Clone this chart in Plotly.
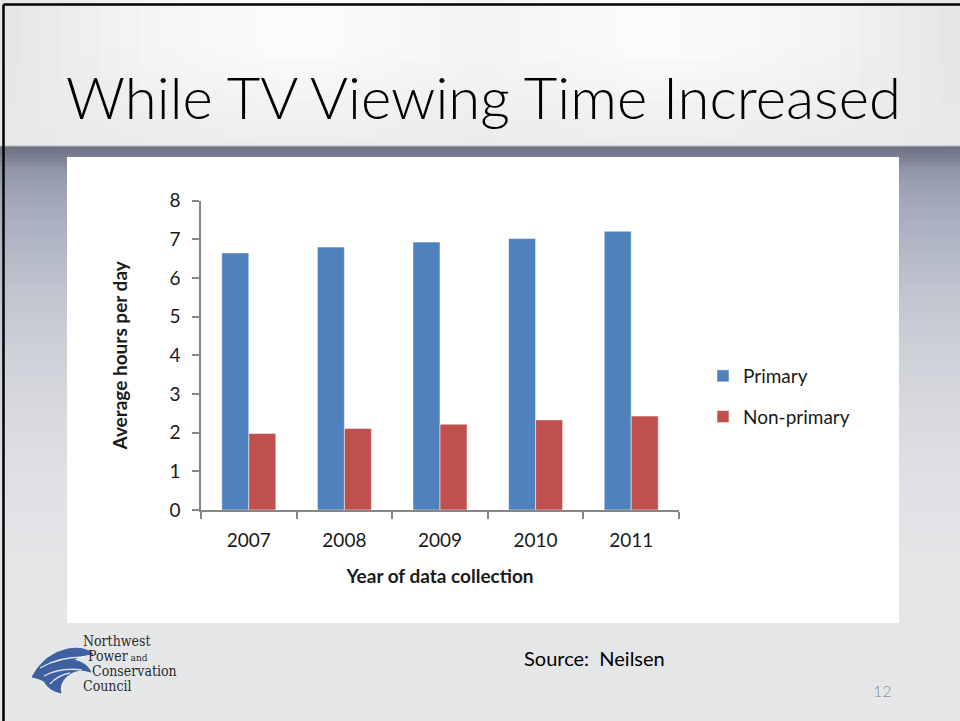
import plotly.graph_objects as go

# ---- data -------------------------------------------------------------
years = ["2007", "2008", "2009", "2010", "2011"]
primary = [6.65, 6.80, 6.93, 7.02, 7.21]
non_primary = [1.98, 2.11, 2.22, 2.33, 2.43]
y_ticks = [0, 1, 2, 3, 4, 5, 6, 7, 8]

W, H = 960, 721


def X(px):
    return px / W


def Y(py):
    return 1 - py / H


def hex2rgb(h):
    h = h.lstrip("#")
    return tuple(int(h[i:i + 2], 16) for i in (0, 2, 4))


def blend(a, b, t):
    return tuple(a[i] + (b[i] - a[i]) * t for i in range(3))


def ramp(stops, v):
    for (p0, c0), (p1, c1) in zip(stops, stops[1:]):
        if p0 <= v <= p1:
            return blend(hex2rgb(c0), hex2rgb(c1), (v - p0) / (p1 - p0) if p1 > p0 else 0)
    return hex2rgb(stops[-1][1])


def css(c):
    return "rgb(%d,%d,%d)" % tuple(round(v) for v in c)


shapes = []

# slide body: vertical gradient from the header shadow down to light grey
body_stops = [(146, "#6c7283"), (156, "#787e90"), (170, "#9097a9"), (200, "#a2a8ba"),
              (250, "#b3b8c6"), (300, "#c2c6d0"), (350, "#cdd0d7"), (400, "#d6d8dd"),
              (450, "#dcdee2"), (500, "#e1e2e5"), (560, "#e4e5e7"), (721, "#e6e7e9")]
step = 4
y0 = 146
while y0 < H:
    y1 = min(y0 + step, H)
    shapes.append(dict(type="rect", xref="paper", yref="paper", layer="below",
                       x0=0, x1=1, y0=Y(y1), y1=Y(y0), line=dict(width=0),
                       fillcolor=css(ramp(body_stops, (y0 + y1) / 2))))
    y0 = y1

# header band: light sheen, whiter towards the upper middle
col_stops = [(0, "#e4e5e7"), (150, "#f5f5f6"), (300, "#fcfcfc"), (480, "#f4f4f5"),
             (660, "#fcfcfc"), (820, "#f4f4f5"), (960, "#e4e5e7")]
bottom_tone = hex2rgb("#e8e9eb")
cw = 20
for cx in range(0, W, cw):
    top = ramp(col_stops, cx + cw / 2)
    for ry in range(0, 146, 10):
        ry1 = min(ry + 10, 146)
        t = min(1.0, max(0.0, (ry + 5 - 50) / 96))
        shapes.append(dict(type="rect", xref="paper", yref="paper", layer="below",
                           x0=X(cx), x1=X(cx + cw), y0=Y(ry1), y1=Y(ry), line=dict(width=0),
                           fillcolor=css(blend(top, bottom_tone, t * 0.8))))

# header lower edge
shapes.append(dict(type="line", xref="paper", yref="paper", layer="below",
                   x0=0, x1=1, y0=Y(146), y1=Y(146), line=dict(color="#b9bbc0", width=1)))

# white chart panel
shapes.append(dict(type="rect", xref="paper", yref="paper", layer="below",
                   x0=X(67), x1=X(899), y0=Y(623), y1=Y(157), line=dict(width=0),
                   fillcolor="white"))

# slide frame (top and left edges)
shapes.append(dict(type="line", xref="paper", yref="paper", x0=X(3.5), x1=1,
                   y0=Y(4.5), y1=Y(4.5), line=dict(color="black", width=2.5)))
shapes.append(dict(type="line", xref="paper", yref="paper", x0=X(3.5), x1=X(3.5),
                   y0=Y(4.5), y1=0, line=dict(color="black", width=2.5)))


# logo emblem: stylised blue wave
def path(cmds):
    out = []
    for cmd, pts in cmds:
        out.append(cmd + " ".join("%.5f,%.5f" % (X(a), Y(b)) for a, b in pts))
    return " ".join(out)


wave = path([("M", [(32, 677)]), ("Q", [(44, 654), (68, 649)]), ("Q", [(84, 646), (93, 654)]),
             ("Q", [(80, 655), (74, 660)]), ("Q", [(87, 663), (91, 672)]),
             ("Q", [(77, 667), (67, 676)]), ("Q", [(58, 684), (61, 693)]),
             ("Q", [(48, 690), (44, 681)]), ("Q", [(38, 678), (32, 677)]), ("Z", [])])
shapes.append(dict(type="path", xref="paper", yref="paper", path=wave,
                   fillcolor="#3e609f", line=dict(color="#3e609f", width=1)))
for p in ([(40, 668), (58, 657), (84, 657)], [(44, 676), (60, 667), (82, 670)],
          [(50, 684), (58, 675), (70, 673)]):
    shapes.append(dict(type="path", xref="paper", yref="paper",
                       path=path([("M", [p[0]]), ("Q", [p[1], p[2]])]),
                       line=dict(color="rgba(255,255,255,0.8)", width=1.3)))

font = "Lato, 'Open Sans', sans-serif"
txt = "#1a1a1a"

fig = go.Figure()
fig.add_trace(go.Bar(x=years, y=primary, name="Primary", marker_color="#4f81bd",
                     marker_line=dict(color="rgba(255,255,255,0.5)", width=1),
                     legendgroup="a"))
fig.add_trace(go.Bar(x=years, y=non_primary, name="Non-primary", marker_color="#c0504d",
                     marker_line=dict(color="rgba(255,255,255,0.5)", width=1),
                     legendgroup="b"))

annotations = [
    dict(text="While TV Viewing Time Increased", x=X(483), y=Y(97), xref="paper", yref="paper",
         showarrow=False, xanchor="center", yanchor="middle",
         font=dict(family="Lato", size=58, color="black", weight=300)),
    dict(text="Source:  Neilsen", x=X(594), y=Y(658), xref="paper", yref="paper",
         showarrow=False, xanchor="center", yanchor="middle",
         font=dict(family=font, size=20, color="black")),
    dict(text="12", x=X(882), y=Y(690), xref="paper", yref="paper", showarrow=False,
         xanchor="center", yanchor="middle",
         font=dict(family=font, size=16, color="#8c8c8c", weight=300)),
]

# logo lettering
serif = "'DejaVu Serif Condensed', 'Liberation Serif', serif"
for label, lx, ly in (("Northwest", 81, 641), ("Power<span style='font-size:10px'> and</span>", 86, 656),
                      ("Conservation", 90, 671), ("Council", 81, 686)):
    annotations.append(dict(text=label, x=X(lx), y=Y(ly), xref="paper", yref="paper",
                            showarrow=False, xanchor="left", yanchor="middle",
                            font=dict(family=serif, size=14, color="#2b2b2b")))

fig.update_layout(
    width=W, height=H, autosize=False,
    margin=dict(l=0, r=0, t=0, b=0, pad=0),
    paper_bgcolor="#e6e7e9",
    plot_bgcolor="rgba(0,0,0,0)",
    barmode="group", bargap=0.435, bargroupgap=0,
    shapes=shapes,
    annotations=annotations,
    showlegend=True,
    legend=dict(x=X(703), y=Y(357), xanchor="left", yanchor="top", traceorder="grouped",
                tracegroupgap=13, bgcolor="rgba(0,0,0,0)",
                font=dict(family=font, size=19, color=txt)),
    xaxis=dict(domain=[X(201), X(679)], type="category", showgrid=False, automargin=False,
               showline=True, linecolor="#868686", linewidth=1.5,
               ticks="outside", tickson="boundaries", ticklen=7, tickcolor="#868686",
               tickwidth=1.5, ticklabelstandoff=12,
               tickfont=dict(family=font, size=19, color=txt),
               title=dict(text="<b>Year of data collection</b>", standoff=20,
                          font=dict(family=font, size=19, color=txt))),
    yaxis=dict(domain=[Y(510), Y(200.7)], range=[0, 8], tickvals=y_ticks, showgrid=False,
               automargin=False, zeroline=False, showline=True, linecolor="#868686",
               linewidth=1.5, ticks="outside", ticklen=7, tickcolor="#868686", tickwidth=1.5,
               ticklabelstandoff=8,
               tickfont=dict(family=font, size=19, color=txt),
               title=dict(text="<b>Average hours per day</b>", standoff=37,
                          font=dict(family=font, size=19, color=txt))),
)

fig.write_html("out.html", post_script="document.body.style.margin='0';")
